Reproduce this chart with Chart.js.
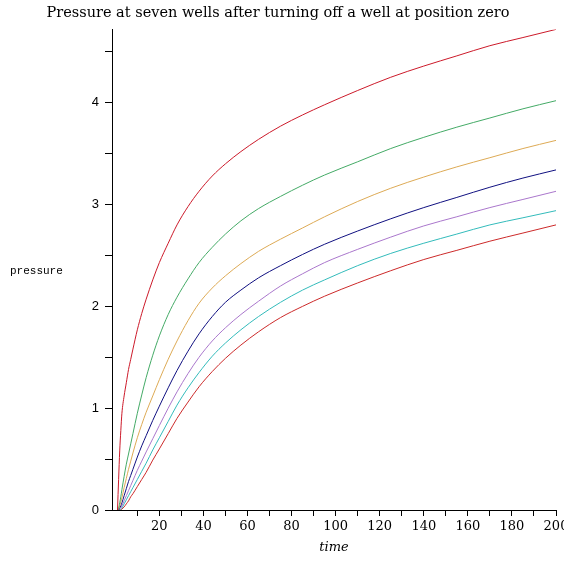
<!DOCTYPE html>
<html>
<head>
<meta charset="utf-8">
<title>Pressure at seven wells</title>
<script src="https://cdn.jsdelivr.net/npm/chart.js@4.4.1/dist/chart.umd.min.js"></script>
<style>
    html, body { margin: 0; padding: 0; background: #fff; }
    #wells { display: block; }
</style>
</head>
<body>
<canvas id="wells" width="564" height="563"></canvas>
<script>
// sample times shared by all seven wells
const times = [1, 1.5, 2, 2.5, 3, 4, 5, 6, 7, 8, 10, 12, 14, 17, 20, 24, 28, 33, 38, 44, 50, 57, 65, 75, 85, 95, 110, 125, 140, 155, 170, 185, 200];

// pressure at each well, nearest first
const well1 = [0, 0.3, 0.58, 0.78, 0.95, 1.12, 1.25, 1.38, 1.48, 1.58, 1.77, 1.93, 2.07, 2.26, 2.43, 2.62, 2.8, 2.98, 3.13, 3.28, 3.4, 3.52, 3.64, 3.77, 3.88, 3.98, 4.12, 4.25, 4.36, 4.46, 4.56, 4.64, 4.72];
const well2 = [0, 0.02, 0.07, 0.13, 0.2, 0.33, 0.45, 0.55, 0.65, 0.75, 0.95, 1.13, 1.3, 1.52, 1.71, 1.92, 2.09, 2.27, 2.43, 2.58, 2.71, 2.84, 2.96, 3.08, 3.19, 3.29, 3.42, 3.55, 3.66, 3.76, 3.85, 3.94, 4.02];
const well3 = [0, 0.01, 0.04, 0.08, 0.12, 0.22, 0.31, 0.4, 0.48, 0.56, 0.71, 0.84, 0.96, 1.12, 1.28, 1.48, 1.66, 1.86, 2.03, 2.18, 2.3, 2.42, 2.54, 2.66, 2.77, 2.88, 3.03, 3.16, 3.27, 3.37, 3.46, 3.55, 3.63];
const well4 = [0, 0, 0.02, 0.04, 0.07, 0.14, 0.21, 0.28, 0.34, 0.4, 0.52, 0.63, 0.73, 0.88, 1.02, 1.2, 1.37, 1.56, 1.73, 1.9, 2.04, 2.16, 2.28, 2.4, 2.51, 2.61, 2.74, 2.86, 2.97, 3.07, 3.17, 3.26, 3.34];
const well5 = [0, 0, 0.01, 0.02, 0.04, 0.09, 0.14, 0.19, 0.24, 0.29, 0.39, 0.48, 0.57, 0.7, 0.83, 1.0, 1.16, 1.34, 1.5, 1.66, 1.79, 1.92, 2.05, 2.2, 2.32, 2.43, 2.56, 2.68, 2.79, 2.88, 2.97, 3.05, 3.13];
const well6 = [0, 0, 0, 0.01, 0.02, 0.06, 0.1, 0.14, 0.18, 0.22, 0.3, 0.38, 0.46, 0.59, 0.71, 0.87, 1.03, 1.2, 1.35, 1.51, 1.64, 1.77, 1.9, 2.04, 2.16, 2.26, 2.4, 2.52, 2.62, 2.71, 2.8, 2.87, 2.94];
const well7 = [0, 0, 0, 0, 0.01, 0.03, 0.06, 0.09, 0.13, 0.16, 0.23, 0.3, 0.37, 0.49, 0.6, 0.75, 0.9, 1.06, 1.21, 1.36, 1.49, 1.62, 1.75, 1.89, 2.0, 2.1, 2.23, 2.35, 2.46, 2.55, 2.64, 2.72, 2.8];

const wells = [well1, well2, well3, well4, well5, well6, well7];
const colors = ['#cc1a2a', '#44aa66', '#ddaa55', '#101080', '#aa77cc', '#33bbbb', '#cc2a2a'];

// horizontal y axis caption, like the old maple plots
const yCaption = {
    id: 'yCaption',
    afterDraw(chart) {
        const ctx = chart.ctx;
        const area = chart.chartArea;
        ctx.save();
        ctx.font = '11px "Liberation Mono"';
        ctx.fillStyle = '#000';
        ctx.textBaseline = 'middle';
        ctx.fillText('pressure', 10, (area.top + area.bottom) / 2 + 1);
        ctx.restore();
    }
};

const ctx = document.getElementById('wells').getContext('2d');
new Chart(ctx, {
    type: 'line',
    data: {
        datasets: wells.map((w, i) => ({
            label: 'well ' + (i + 1),
            data: times.map((t, j) => ({ x: t, y: w[j] })),
            borderColor: colors[i],
            borderWidth: 1,
            pointRadius: 0,
            fill: false,
            cubicInterpolationMode: 'monotone'
        }))
    },
    options: {
        responsive: false,
        animation: false,
        devicePixelRatio: 1,
        layout: { padding: { left: 0, right: 8, top: 0, bottom: 0 } },
        plugins: {
            legend: { display: false },
            tooltip: { enabled: false },
            title: {
                display: true,
                text: 'Pressure at seven wells after turning off a well at position zero',
                color: '#000',
                font: { family: '"DejaVu Serif"', size: 14.5, weight: 'normal' },
                padding: { top: 5, bottom: 7 }
            }
        },
        scales: {
            x: {
                type: 'linear',
                min: -1.5,
                max: 200,
                grid: { drawOnChartArea: false, drawTicks: true, tickLength: 6, color: '#000' },
                border: { display: true, color: '#000', width: 1 },
                ticks: {
                    stepSize: 10,
                    includeBounds: false,
                    autoSkip: false,
                    maxRotation: 0,
                    padding: 3,
                    color: '#000',
                    font: { family: '"DejaVu Serif"', size: 13 },
                    callback: v => (v % 20 === 0 ? v : '')
                },
                title: {
                    display: true,
                    text: 'time',
                    color: '#000',
                    font: { family: '"DejaVu Serif"', size: 13, style: 'italic' },
                    padding: { top: 2, bottom: 8 }
                },
                afterBuildTicks: scale => {
                    scale.ticks = scale.ticks.filter(t => t.value > 0);
                },
                afterFit: scale => {
                    scale.height = 53;
                    scale.paddingLeft = 0;
                    scale.paddingRight = 0;
                }
            },
            y: {
                min: 0,
                max: 4.72,
                grid: { drawOnChartArea: false, drawTicks: true, tickLength: 7, color: '#000' },
                border: { display: true, color: '#000', width: 1 },
                ticks: {
                    stepSize: 0.5,
                    includeBounds: false,
                    autoSkip: false,
                    padding: 6,
                    color: '#000',
                    font: { family: '"Liberation Sans"', size: 13 },
                    callback: v => (Number.isInteger(v) ? v : '')
                },
                afterFit: scale => {
                    scale.width = 112;
                    scale.paddingTop = 0;
                    scale.paddingBottom = 0;
                }
            }
        }
    },
    plugins: [yCaption]
});
</script>
</body>
</html>
